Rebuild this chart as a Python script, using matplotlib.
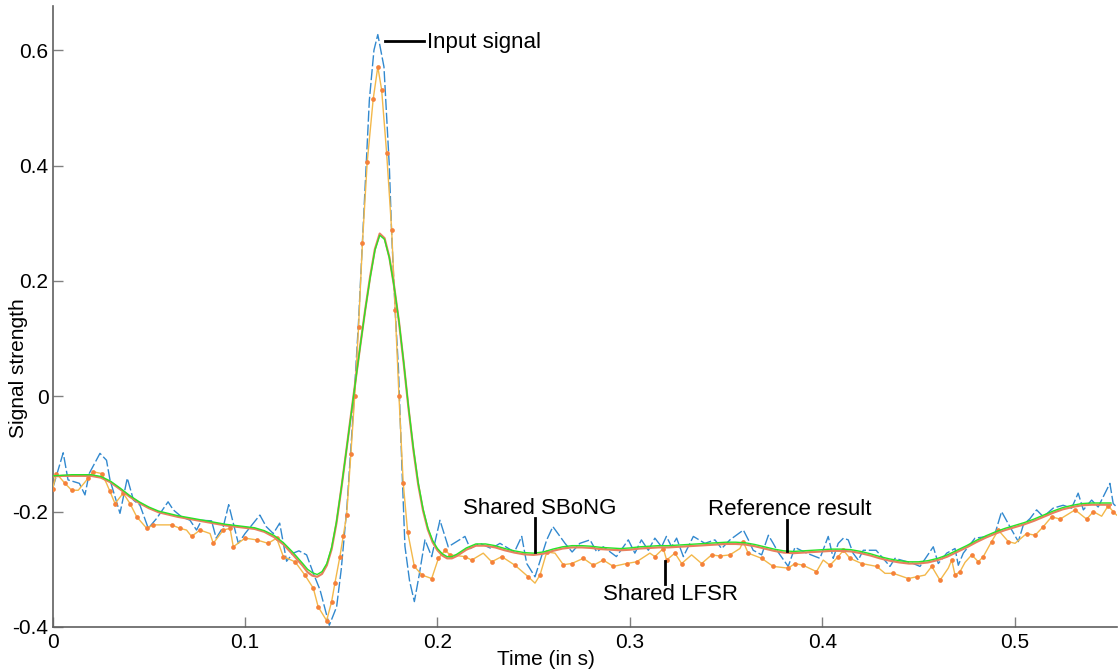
import numpy as np
import matplotlib
matplotlib.use("Agg")
import matplotlib.pyplot as plt

plt.rcParams['font.family'] = ['Liberation Sans', 'DejaVu Sans']
plt.rcParams['axes.unicode_minus'] = False

# smooth curves: every 5 ms, every 2.5 ms around the peak (0.13-0.21 s)
t_smooth = np.concatenate([np.linspace(0, 0.125, 26),
                           np.linspace(0.13, 0.21, 33),
                           np.linspace(0.215, 0.55, 68)])
green_sbong = [
    # 0 .. 0.125
    -0.138, -0.137, -0.136, -0.136, -0.136, -0.139, -0.147, -0.159, -0.172, -0.183,
    -0.192, -0.199, -0.203, -0.207, -0.210, -0.213, -0.216, -0.219, -0.222, -0.224,
    -0.226, -0.228, -0.233, -0.241, -0.254, -0.271,
    # 0.13 .. 0.21
    -0.290, -0.300, -0.306, -0.309, -0.304, -0.290, -0.262, -0.218, -0.160, -0.098,
    -0.035, 0.028, 0.090, 0.150, 0.205, 0.253, 0.279, 0.272, 0.240, 0.190,
    0.130, 0.058, -0.020, -0.090, -0.150, -0.195, -0.228, -0.250, -0.264, -0.273,
    -0.278, -0.278, -0.274,
    # 0.215 .. 0.55
    -0.263, -0.256, -0.256, -0.259, -0.264, -0.268, -0.271, -0.272, -0.270, -0.265,
    -0.261, -0.259, -0.259, -0.260, -0.262, -0.263, -0.264, -0.263, -0.261, -0.260,
    -0.259, -0.259, -0.258, -0.257, -0.256, -0.255, -0.254, -0.253, -0.253, -0.254,
    -0.257, -0.261, -0.265, -0.268, -0.269, -0.268, -0.267, -0.266, -0.265, -0.265,
    -0.266, -0.269, -0.273, -0.278, -0.282, -0.285, -0.287, -0.287, -0.285, -0.281,
    -0.275, -0.267, -0.259, -0.250, -0.242, -0.235, -0.229, -0.224, -0.219, -0.213,
    -0.206, -0.199, -0.193, -0.189, -0.186, -0.185, -0.185, -0.185,
]
reference = [
    -0.139, -0.138, -0.138, -0.138, -0.138, -0.141, -0.149, -0.161, -0.174, -0.185,
    -0.194, -0.201, -0.205, -0.209, -0.212, -0.215, -0.218, -0.221, -0.224, -0.226,
    -0.228, -0.230, -0.235, -0.244, -0.257, -0.275,
    -0.294, -0.305, -0.311, -0.313, -0.308, -0.293, -0.265, -0.220, -0.161, -0.098,
    -0.034, 0.029, 0.091, 0.151, 0.207, 0.255, 0.282, 0.274, 0.241, 0.190,
    0.129, 0.056, -0.022, -0.093, -0.153, -0.198, -0.231, -0.253, -0.267, -0.276,
    -0.281, -0.281, -0.277,
    -0.266, -0.259, -0.259, -0.262, -0.267, -0.271, -0.274, -0.275, -0.273, -0.268,
    -0.264, -0.262, -0.262, -0.263, -0.265, -0.266, -0.267, -0.266, -0.264, -0.263,
    -0.262, -0.262, -0.261, -0.260, -0.259, -0.258, -0.257, -0.256, -0.256, -0.257,
    -0.260, -0.264, -0.268, -0.271, -0.272, -0.271, -0.270, -0.269, -0.268, -0.268,
    -0.269, -0.272, -0.276, -0.281, -0.285, -0.288, -0.290, -0.290, -0.288, -0.284,
    -0.278, -0.270, -0.262, -0.253, -0.245, -0.238, -0.232, -0.227, -0.222, -0.216,
    -0.209, -0.202, -0.196, -0.192, -0.189, -0.188, -0.188, -0.188,
]

# noisy input signal (polyline vertices)
input_t = [
    0.000, 0.0055, 0.008, 0.0139, 0.0168, 0.019, 0.0246, 0.028, 0.0298, 0.035,
    0.0388, 0.042, 0.0454, 0.0497, 0.054, 0.060, 0.0627, 0.067, 0.0714, 0.0748,
    0.0774, 0.0826, 0.085, 0.0887, 0.0915, 0.0965, 0.100, 0.1077, 0.111, 0.1147,
    0.118, 0.1216, 0.125, 0.128, 0.132, 0.1355, 0.139, 0.1438, 0.1476, 0.150,
    0.153, 0.156, 0.159, 0.1615, 0.1635, 0.1646, 0.167, 0.169, 0.1722, 0.1736,
    0.175, 0.1762, 0.178, 0.1797, 0.1815, 0.1831, 0.1855, 0.188, 0.1905, 0.1935,
    0.197, 0.2013, 0.2056, 0.2143, 0.217, 0.222, 0.228, 0.2325, 0.240, 0.2438,
    0.2464, 0.2507, 0.2568, 0.260, 0.2663, 0.270, 0.274, 0.2793, 0.2828, 0.2862,
    0.293, 0.2992, 0.3026, 0.306, 0.3096, 0.313, 0.3165, 0.319, 0.3217, 0.3243,
    0.3278, 0.333, 0.339, 0.3442, 0.3477, 0.352, 0.359, 0.3616, 0.3641, 0.3685,
    0.372, 0.3745, 0.377, 0.3823, 0.3858, 0.3919, 0.3988, 0.4031, 0.4057, 0.4083,
    0.411, 0.4135, 0.416, 0.4187, 0.4213, 0.428, 0.4352, 0.4378, 0.4473, 0.4508,
    0.4577, 0.4603, 0.4647, 0.469, 0.4707, 0.4733, 0.4794, 0.4863, 0.4898, 0.4932,
    0.4985, 0.5019, 0.5045, 0.508, 0.5114, 0.5149, 0.520, 0.5252, 0.5296, 0.533,
    0.5357, 0.540, 0.5434, 0.5495, 0.5512, 0.553,
]
input_v = [
    -0.160, -0.098, -0.145, -0.151, -0.171, -0.134, -0.099, -0.111, -0.145, -0.203,
    -0.142, -0.180, -0.189, -0.229, -0.212, -0.183, -0.197, -0.209, -0.215, -0.232,
    -0.215, -0.216, -0.246, -0.226, -0.188, -0.255, -0.238, -0.206, -0.226, -0.238,
    -0.220, -0.286, -0.272, -0.268, -0.275, -0.307, -0.336, -0.397, -0.365, -0.300,
    -0.190, -0.040, 0.130, 0.300, 0.438, 0.513, 0.600, 0.627, 0.571, 0.484,
    0.398, 0.282, 0.150, 0.050, -0.120, -0.260, -0.320, -0.356, -0.310, -0.249,
    -0.278, -0.215, -0.261, -0.243, -0.264, -0.255, -0.264, -0.255, -0.270, -0.243,
    -0.290, -0.313, -0.249, -0.226, -0.255, -0.270, -0.255, -0.249, -0.270, -0.261,
    -0.278, -0.249, -0.272, -0.249, -0.267, -0.246, -0.261, -0.243, -0.261, -0.246,
    -0.278, -0.243, -0.255, -0.249, -0.264, -0.249, -0.232, -0.249, -0.267, -0.275,
    -0.241, -0.255, -0.270, -0.295, -0.262, -0.272, -0.281, -0.243, -0.281, -0.255,
    -0.246, -0.249, -0.272, -0.284, -0.267, -0.267, -0.295, -0.281, -0.290, -0.295,
    -0.261, -0.290, -0.272, -0.264, -0.293, -0.272, -0.246, -0.243, -0.238, -0.200,
    -0.232, -0.252, -0.223, -0.212, -0.197, -0.209, -0.194, -0.189, -0.194, -0.168,
    -0.197, -0.180, -0.192, -0.151, -0.186, -0.192,
]

# shared LFSR result
lfsr_t = [
    0.000, 0.002, 0.0064, 0.0099, 0.0133, 0.0185, 0.0211, 0.0255, 0.028, 0.0298,
    0.0324, 0.0367, 0.0402, 0.0437, 0.0489, 0.0523, 0.0567, 0.0618, 0.0662, 0.0696,
    0.0722, 0.0766, 0.0818, 0.0835, 0.0887, 0.0922, 0.0939, 0.100, 0.106, 0.112,
    0.1164, 0.1199, 0.126, 0.1311, 0.1355, 0.138, 0.1424, 0.145, 0.1467, 0.1493,
    0.151, 0.1528, 0.155, 0.157, 0.159, 0.161, 0.1635, 0.1666, 0.169, 0.171,
    0.1736, 0.1762, 0.178, 0.180, 0.1822, 0.1845, 0.188, 0.192, 0.197, 0.2005,
    0.204, 0.2065, 0.2143, 0.2178, 0.2238, 0.2282, 0.2334, 0.2403, 0.2472, 0.2507,
    0.2533, 0.2568, 0.2611, 0.2654, 0.2698, 0.2758, 0.281, 0.2862, 0.2914, 0.2983,
    0.3035, 0.3104, 0.313, 0.3174, 0.3191, 0.3234, 0.3269, 0.3321, 0.3373, 0.3425,
    0.3468, 0.352, 0.3572, 0.3589, 0.3615, 0.3685, 0.3745, 0.3823, 0.3858, 0.390,
    0.397, 0.4005, 0.404, 0.4083, 0.411, 0.4144, 0.4205, 0.4283, 0.4326, 0.4369,
    0.4447, 0.4491, 0.4534, 0.4569, 0.4612, 0.4655, 0.4673, 0.469, 0.4716, 0.4742,
    0.4777, 0.4811, 0.4837, 0.488, 0.4915, 0.4967, 0.5002, 0.5062, 0.5106, 0.5149,
    0.5192, 0.5236, 0.5314, 0.5374, 0.5409, 0.5452, 0.5486, 0.5512, 0.553,
]
lfsr_v = [
    -0.160, -0.134, -0.151, -0.163, -0.163, -0.142, -0.131, -0.134, -0.151, -0.165,
    -0.186, -0.168, -0.186, -0.209, -0.229, -0.223, -0.223, -0.223, -0.229, -0.232,
    -0.243, -0.232, -0.238, -0.255, -0.232, -0.229, -0.261, -0.246, -0.249, -0.255,
    -0.246, -0.278, -0.287, -0.310, -0.333, -0.365, -0.389, -0.356, -0.324, -0.278,
    -0.243, -0.206, -0.100, 0.000, 0.120, 0.265, 0.406, 0.515, 0.571, 0.531,
    0.421, 0.288, 0.150, 0.000, -0.150, -0.235, -0.295, -0.310, -0.316, -0.281,
    -0.267, -0.275, -0.278, -0.284, -0.272, -0.287, -0.278, -0.293, -0.313, -0.324,
    -0.310, -0.270, -0.272, -0.292, -0.290, -0.281, -0.293, -0.284, -0.295, -0.290,
    -0.287, -0.272, -0.278, -0.264, -0.284, -0.272, -0.290, -0.275, -0.290, -0.275,
    -0.277, -0.275, -0.264, -0.252, -0.272, -0.281, -0.295, -0.298, -0.290, -0.293,
    -0.304, -0.284, -0.293, -0.278, -0.267, -0.281, -0.290, -0.295, -0.307, -0.307,
    -0.316, -0.313, -0.310, -0.295, -0.319, -0.298, -0.284, -0.310, -0.304, -0.288,
    -0.275, -0.287, -0.278, -0.252, -0.232, -0.252, -0.255, -0.238, -0.241, -0.226,
    -0.209, -0.213, -0.197, -0.213, -0.200, -0.208, -0.190, -0.200, -0.206,
]

x_ticks = [0, 0.1, 0.2, 0.3, 0.4, 0.5]
x_labels = ['0', '0.1', '0.2', '0.3', '0.4', '0.5']
y_ticks = [-0.4, -0.2, 0, 0.2, 0.4, 0.6]
y_labels = ['-0.4', '-0.2', '0', '0.2', '0.4', '0.6']

# callouts: text, text anchor (x, y), line start, line end
callouts = [
    ('Input signal', (0.1945, 0.614), (0.1728, 0.616), (0.1930, 0.616)),
    ('Shared SBoNG', (0.2133, -0.194), (0.2507, -0.211), (0.2507, -0.270)),
    ('Reference result', (0.3406, -0.196), (0.3816, -0.214), (0.3816, -0.268)),
    ('Shared LFSR', (0.2860, -0.343), (0.3183, -0.286), (0.3183, -0.326)),
]

fig = plt.figure(figsize=(11.2, 6.71), dpi=100)
ax = fig.add_axes([0.047, 0.0656, 0.950, 0.925])

ax.plot(input_t, input_v, color='#3289cf', lw=1.0, dashes=(8, 2), zorder=2)
ax.plot(lfsr_t, lfsr_v, color='#f3b84a', lw=1.0, zorder=3)
ax.plot(lfsr_t, lfsr_v, ls='none', marker='o', ms=3.4, color='#f5813a',
        mec='none', markevery=0.011, zorder=4)
ax.plot(t_smooth, reference, color='#e8805e', lw=1.6, zorder=5)
ax.plot(t_smooth, green_sbong, color='#28e428', lw=1.0, zorder=6)

for text, pos, p0, p1 in callouts:
    ax.plot([p0[0], p1[0]], [p0[1], p1[1]], color='black', lw=2.0, zorder=7)
    ax.text(pos[0], pos[1], text, fontsize=16, ha='left', va='center', zorder=8)

ax.set_xlim(0, 0.553)
ax.set_ylim(-0.4, 0.676)
ax.set_xticks(x_ticks)
ax.set_xticklabels(x_labels)
ax.set_yticks(y_ticks)
ax.set_yticklabels(y_labels)
ax.tick_params(direction='in', length=7, width=1, color='#808080',
               labelsize=15, pad=3)
ax.tick_params(axis='x', pad=4)
for side in ['top', 'right']:
    ax.spines[side].set_visible(False)
for side in ['left', 'bottom']:
    ax.spines[side].set_color('#606060')
    ax.spines[side].set_linewidth(1.2)

ax.set_xlabel('Time (in s)', fontsize=15)
ax.xaxis.set_label_coords(0.4636, -0.037)
ax.set_ylabel('Signal strength', fontsize=15)
ax.yaxis.set_label_coords(-0.023, 0.417)

fig.savefig('out.png', dpi=100)
